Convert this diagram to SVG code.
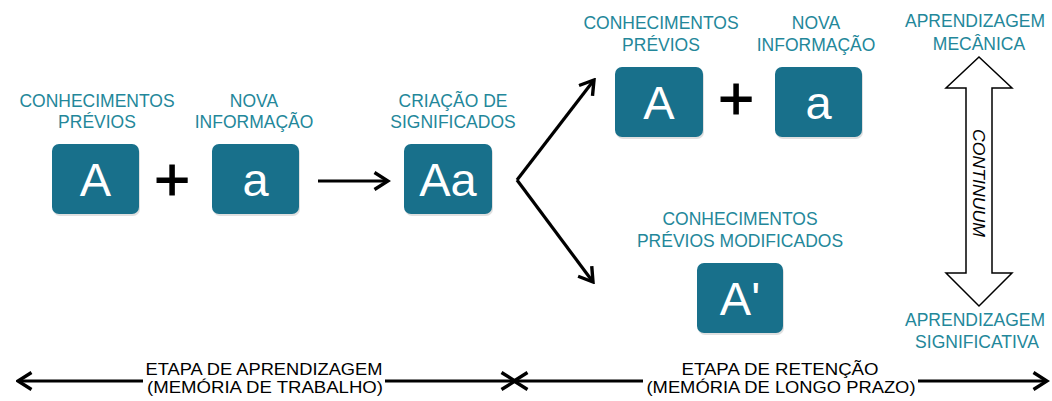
<svg xmlns="http://www.w3.org/2000/svg" width="1052" height="401" viewBox="0 0 1052 401">
<defs>
<style>
.lbl{font-family:"Liberation Sans",Arial,sans-serif;font-size:17.5px;fill:#23879a;text-anchor:middle}
.box{fill:#18708b}
.shadow{fill:#000;opacity:0.12}
.big{font-family:"Liberation Sans",Arial,sans-serif;font-size:47px;fill:#ffffff;text-anchor:middle}
.plus{font-family:"Liberation Sans",Arial,sans-serif;font-size:62px;fill:#000;text-anchor:middle;stroke:#000;stroke-width:1}
.conn{stroke:#000;stroke-width:3.2;fill:none}
.stage{font-family:"Liberation Sans",Arial,sans-serif;font-size:17px;fill:#000;text-anchor:middle}
</style>
<marker id="chev" viewBox="0 0 18 20" refX="15.5" refY="10" markerWidth="18" markerHeight="20" markerUnits="userSpaceOnUse" orient="auto-start-reverse">
<path d="M2,1.5 L15.5,10 L2,18.5" fill="none" stroke="#000" stroke-width="3.4"/>
</marker>
</defs>
<rect width="1052" height="401" fill="#ffffff"/>

<g id="node-A">
<text class="lbl" x="97" y="107">CONHECIMENTOS</text>
<text class="lbl" x="97" y="128">PRÉVIOS</text>
<rect class="shadow" x="53" y="146" width="87" height="70" rx="7"/>
<rect class="box" x="52" y="144" width="87" height="70" rx="7"/>
<text class="big" x="95.5" y="196">A</text>
</g>
<g id="plus-1"><text class="plus" x="172" y="200">+</text></g>
<g id="node-a">
<text class="lbl" x="254" y="107">NOVA</text>
<text class="lbl" x="254" y="128">INFORMAÇÃO</text>
<rect class="shadow" x="213" y="146" width="87" height="70" rx="7"/>
<rect class="box" x="212" y="144" width="87" height="70" rx="7"/>
<text class="big" x="255.5" y="196">a</text>
</g>
<g id="node-Aa">
<text class="lbl" x="453" y="107">CRIAÇÃO DE</text>
<text class="lbl" x="453" y="128">SIGNIFICADOS</text>
<rect class="shadow" x="405" y="146" width="88" height="70" rx="7"/>
<rect class="box" x="404" y="144" width="88" height="70" rx="7"/>
<text class="big" x="448" y="196">Aa</text>
</g>

<g id="node-A-top">
<text class="lbl" x="661" y="29">CONHECIMENTOS</text>
<text class="lbl" x="661" y="51">PRÉVIOS</text>
<rect class="shadow" x="616" y="69" width="88" height="70" rx="7"/>
<rect class="box" x="615" y="67" width="88" height="70" rx="7"/>
<text class="big" x="659" y="119">A</text>
</g>
<g id="plus-2"><text class="plus" x="736" y="119">+</text></g>
<g id="node-a-top">
<text class="lbl" x="816" y="29">NOVA</text>
<text class="lbl" x="816" y="51">INFORMAÇÃO</text>
<rect class="shadow" x="776" y="69" width="87" height="70" rx="7"/>
<rect class="box" x="775" y="67" width="87" height="70" rx="7"/>
<text class="big" x="818.5" y="119">a</text>
</g>
<g id="node-A-prime">
<text class="lbl" x="740" y="225">CONHECIMENTOS</text>
<text class="lbl" x="740" y="247">PRÉVIOS MODIFICADOS</text>
<rect class="shadow" x="698" y="265" width="86" height="70" rx="7"/>
<rect class="box" x="697" y="263" width="86" height="70" rx="7"/>
<text class="big" x="740" y="315">A'</text>
</g>

<g id="continuum">
<text class="lbl" x="975" y="27">APRENDIZAGEM</text>
<text class="lbl" x="979" y="50">MECÂNICA</text>
<polygon points="979,57 1012,88 992,88 992,273 1012,273 979,306 946,273 966,273 966,88 946,88" fill="#ffffff" stroke="#000" stroke-width="1.5" stroke-linejoin="miter"/>
<text x="0" y="0" transform="translate(973,183) rotate(90)" font-family="'Liberation Sans',Arial,sans-serif" font-size="17" font-style="italic" fill="#000" text-anchor="middle" textLength="108" lengthAdjust="spacingAndGlyphs">CONTINUUM</text>
<text class="lbl" x="975" y="326">APRENDIZAGEM</text>
<text class="lbl" x="977" y="348">SIGNIFICATIVA</text>
</g>

<g id="connectors">
<line class="conn" x1="318" y1="181" x2="388" y2="181" marker-end="url(#chev)"/>
<line class="conn" x1="517" y1="180" x2="594" y2="80" marker-end="url(#chev)"/>
<line class="conn" x1="517" y1="180" x2="593" y2="282" marker-end="url(#chev)"/>
<line class="conn" x1="18" y1="381" x2="143" y2="381" marker-start="url(#chev)"/>
<line class="conn" x1="385" y1="381" x2="515" y2="381" marker-end="url(#chev)"/>
<line class="conn" x1="514" y1="381" x2="643" y2="381" marker-start="url(#chev)"/>
<line class="conn" x1="918" y1="381" x2="1047" y2="381" marker-end="url(#chev)"/>
</g>

<g id="stage-labels">
<text class="stage" x="264" y="375" textLength="237" lengthAdjust="spacingAndGlyphs">ETAPA DE APRENDIZAGEM</text>
<text class="stage" x="265" y="393" textLength="236" lengthAdjust="spacingAndGlyphs">(MEMÓRIA DE TRABALHO)</text>
<text class="stage" x="780" y="375" textLength="197" lengthAdjust="spacingAndGlyphs">ETAPA DE RETENÇÃO</text>
<text class="stage" x="781" y="393" textLength="269" lengthAdjust="spacingAndGlyphs">(MEMÓRIA DE LONGO PRAZO)</text>
</g>
</svg>
